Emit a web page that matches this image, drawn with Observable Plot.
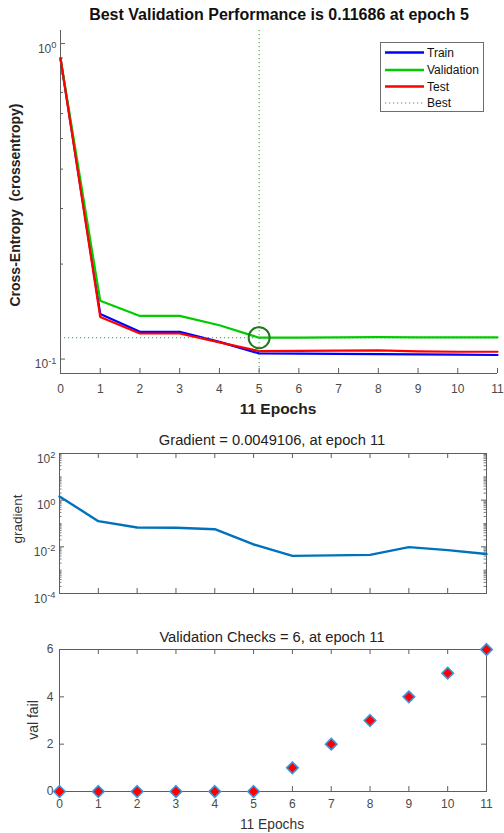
<!DOCTYPE html>
<html><head><meta charset="utf-8">
<script src="https://cdn.jsdelivr.net/npm/d3@7"></script>
<script src="https://cdn.jsdelivr.net/npm/@observablehq/plot@0.6"></script>
<style>
body{margin:0;background:#fff;font-family:"Liberation Sans",Arial,sans-serif;}
#wrap{position:relative;width:504px;height:833px;overflow:hidden;background:#fff;}
.abs{position:absolute;white-space:pre;transform:translate(-50%,-50%);line-height:1;}
.rot{transform:translate(-50%,-50%) rotate(-90deg);}
</style></head><body><div id="wrap"></div>
<script>
// ---- data ----
const epochs = [0,1,2,3,4,5,6,7,8,9,10,11];
const trainPerf = [0.897,0.139,0.122,0.122,0.1134,0.1042,0.1040,0.1038,0.1037,0.1035,0.1033,0.1030];
const valPerf   = [0.897,0.153,0.137,0.137,0.128,0.11686,0.1170,0.1171,0.1173,0.1172,0.1171,0.1172];
const testPerf  = [0.897,0.136,0.1205,0.1205,0.1130,0.1060,0.1061,0.1063,0.1066,0.1058,0.1055,0.1055];
const bestEpoch = 5;
const bestPerf = 0.11686;
const gradient = [1.45,0.126,0.067,0.066,0.057,0.0126,0.0041,0.0043,0.0045,0.0097,0.0072,0.0049106];
const valFail = [0,0,0,0,0,0,1,2,3,4,5,6];

const perfTicks = [1, 0.1];
const perfTickLabels = ["10⁰", "10⁻¹"];
const perfMinorTicks = [0.2,0.3,0.4,0.5,0.6,0.7,0.8,0.9];
const gradTicks = [100, 1, 0.01, 0.0001];
const gradTickLabels = ["10²", "10⁰", "10⁻²", "10⁻⁴"];
const gradDecades = [0.0001, 0.001, 0.01, 0.1, 1, 10];
const minorMultipliers = [2,3,4,5,6,7,8,9];
const gradOddDecades = [10, 0.1, 0.001];
const failTicks = [0, 2, 4, 6];

const titles = ["Best Validation Performance is 0.11686 at epoch 5",
                "Gradient = 0.0049106, at epoch 11",
                "Validation Checks = 6, at epoch 11"];
const yLabels = ["Cross-Entropy  (crossentropy)", "gradient", "val fail"];
const xLabel = "11 Epochs";
const legendNames = ["Train", "Validation", "Test", "Best"];

// ---- styles ----
const FONT = '"Liberation Sans", Arial, sans-serif';
const AX = "#5e5e5e";
const TK = "#4a4a4a";
const cTrain = "#0000ff", cVal = "#00cc00", cTest = "#ff0000", cBest = "#3a9a3a", cCircle = "#1f7a1f";
const cGrad = "#0072BD";
const NS = "http://www.w3.org/2000/svg";

const wrap = document.getElementById("wrap");
function place(el, top) { el.style.position = "absolute"; el.style.left = "0px"; el.style.top = top + "px"; wrap.append(el); }
function text(str, x, y, css, rot) {
  const d = document.createElement("div");
  d.className = "abs" + (rot ? " rot" : "");
  d.textContent = str;
  d.style.left = x + "px"; d.style.top = y + "px";
  Object.assign(d.style, css);
  wrap.append(d);
}
const supMap = {"⁰":"0","¹":"1","²":"2","³":"3","⁴":"4","⁵":"5","⁶":"6","⁷":"7","⁸":"8","⁹":"9","⁻":"-"};
function fixSup(svg) {
  svg.querySelectorAll("text").forEach(t => {
    const m = t.textContent.match(/^10([⁰¹²³⁴⁵⁶⁷⁸⁹⁻]+)$/);
    if (!m) return;
    const exp = [...m[1]].map(c => supMap[c]).join("");
    t.textContent = "10";
    t.setAttribute("dy", "0.45em");
    const ts = document.createElementNS(NS, "tspan");
    ts.setAttribute("dy", "-0.5em");
    ts.setAttribute("font-size", "0.78em");
    ts.textContent = exp;
    t.append(ts);
  });
  return svg;
}
const perfMap = new Map(perfTicks.map((t,i)=>[t, perfTickLabels[i]]));
const gradMap = new Map(gradTicks.map((t,i)=>[t, gradTickLabels[i]]));
const gradMinor = gradDecades.flatMap(d => minorMultipliers.map(m => d * m)).concat(gradOddDecades);

// ---- panel 1 ----
{
  const W = 504, H = 420, mL = 60, mR = 7, mT = 30, mB = 47;
  const pw = W - mL - mR, ph = H - mT - mB;
  const svg = Plot.plot({
    width: W, height: H, marginLeft: mL, marginRight: mR, marginTop: mT, marginBottom: mB,
    style: {fontFamily: FONT, fontSize: "12px", color: TK, background: "transparent"},
    x: {domain: [0, 11]},
    y: {type: "log", domain: [0.09, 1.1]},
    marks: [
      Plot.axisX(epochs, {tickSize: 0, tickPadding: 11, label: null, tickFormat: d => String(d)}),
      Plot.axisY(perfTicks, {tickSize: 0, tickPadding: 4, label: null, tickFormat: d => perfMap.get(d)}),
      Plot.ruleX([0], {stroke: AX}),
      Plot.ruleY([0.09], {stroke: AX}),
      Plot.tickX(epochs, {x: d => d, insetTop: ph - 5, stroke: AX}),
      Plot.tickY(perfTicks, {y: d => d, insetRight: pw - 5, stroke: AX}),
      Plot.tickY(perfMinorTicks, {y: d => d, insetRight: pw - 3, stroke: AX}),
      Plot.line(epochs, {x: d => d, y: (d, i) => trainPerf[i], stroke: cTrain, strokeWidth: 2.2}),
      Plot.line(epochs, {x: d => d, y: (d, i) => valPerf[i], stroke: cVal, strokeWidth: 2.2}),
      Plot.line(epochs, {x: d => d, y: (d, i) => testPerf[i], stroke: cTest, strokeWidth: 2.2}),
      Plot.ruleX([bestEpoch], {stroke: cBest, strokeWidth: 1, strokeDasharray: "1.2,2.8"}),
      Plot.ruleY([bestPerf], {stroke: cBest, strokeWidth: 1, strokeDasharray: "1.2,2.8"}),
      Plot.dot([bestEpoch], {x: d => d, y: () => bestPerf, r: 10.5, stroke: cCircle, strokeWidth: 2, fill: "none"})
    ]
  });
  place(fixSup(svg), 0);
  text(titles[0], 279, 15, {fontSize: "16px", fontWeight: "bold", color: "#111"});
  text(yLabels[0], 15, 205, {fontSize: "14px", fontWeight: "bold", color: "#222"}, true);
  text(xLabel, 278, 409, {fontSize: "15.5px", fontWeight: "bold", color: "#222"});

  // legend
  const lg = document.createElementNS(NS, "svg");
  lg.setAttribute("width", 104); lg.setAttribute("height", 70);
  lg.style.position = "absolute"; lg.style.left = "380px"; lg.style.top = "42px";
  const rect = document.createElementNS(NS, "rect");
  Object.entries({x: 0.5, y: 0.5, width: 103, height: 69, fill: "#fff", stroke: "#6e6e6e"}).forEach(([k,v]) => rect.setAttribute(k, v));
  lg.append(rect);
  const cols = [cTrain, cVal, cTest, cBest];
  const ys = [10.5, 28, 44.5, 61];
  legendNames.forEach((n, i) => {
    const l = document.createElementNS(NS, "line");
    const dotted = i === 3;
    Object.entries({x1: 5, x2: 44, y1: ys[i], y2: ys[i], stroke: cols[i], "stroke-width": dotted ? 1 : 2.4}).forEach(([k,v]) => l.setAttribute(k, v));
    if (dotted) l.setAttribute("stroke-dasharray", "1.2,2.8");
    lg.append(l);
    const t = document.createElementNS(NS, "text");
    t.setAttribute("x", 47); t.setAttribute("y", ys[i] + 4.3);
    t.setAttribute("font-size", "12"); t.setAttribute("font-family", FONT); t.setAttribute("fill", "#111");
    t.textContent = n;
    lg.append(t);
  });
  wrap.append(lg);
}

// ---- panel 2 ----
{
  const W = 504, H = 190, mL = 59, mR = 18, mT = 33, mB = 17;
  const pw = W - mL - mR, ph = H - mT - mB;
  const svg = Plot.plot({
    width: W, height: H, marginLeft: mL, marginRight: mR, marginTop: mT, marginBottom: mB,
    style: {fontFamily: FONT, fontSize: "12px", color: TK, background: "transparent"},
    x: {domain: [0, 11], axis: null},
    y: {type: "log", domain: [1e-4, 1e2]},
    marks: [
      Plot.axisY(gradTicks, {tickSize: 0, tickPadding: 4, label: null, tickFormat: d => gradMap.get(d)}),
      Plot.frame({stroke: AX}),
      Plot.tickX(epochs, {x: d => d, insetTop: ph - 5, stroke: AX}),
      Plot.tickX(epochs, {x: d => d, insetBottom: ph - 5, stroke: AX}),
      Plot.tickY(gradTicks, {y: d => d, insetRight: pw - 5, stroke: AX}),
      Plot.tickY(gradTicks, {y: d => d, insetLeft: pw - 5, stroke: AX}),
      Plot.tickY(gradMinor, {y: d => d, insetRight: pw - 2.5, stroke: AX, strokeOpacity: 0.8}),
      Plot.tickY(gradMinor, {y: d => d, insetLeft: pw - 2.5, stroke: AX, strokeOpacity: 0.8}),
      Plot.line(epochs, {x: d => d, y: (d, i) => gradient[i], stroke: cGrad, strokeWidth: 2.4})
    ]
  });
  place(fixSup(svg), 420);
  text(titles[1], 272, 440, {fontSize: "14.7px", color: "#222"});
  text(yLabels[1], 18, 519, {fontSize: "13.5px", color: "#333"}, true);
}

// ---- panel 3 ----
{
  const W = 504, H = 223, mL = 59, mR = 18, mT = 39, mB = 42;
  const pw = W - mL - mR, ph = H - mT - mB;
  const svg = Plot.plot({
    width: W, height: H, marginLeft: mL, marginRight: mR, marginTop: mT, marginBottom: mB,
    style: {fontFamily: FONT, fontSize: "12px", color: TK, background: "transparent"},
    x: {domain: [0, 11]},
    y: {domain: [0, 6]},
    marks: [
      Plot.axisX(epochs, {tickSize: 0, tickPadding: 8, label: null, tickFormat: d => String(d)}),
      Plot.axisY(failTicks, {tickSize: 0, tickPadding: 6, label: null, tickFormat: d => String(d)}),
      Plot.frame({stroke: AX}),
      Plot.tickX(epochs, {x: d => d, insetTop: ph - 5, stroke: AX}),
      Plot.tickX(epochs, {x: d => d, insetBottom: ph - 5, stroke: AX}),
      Plot.tickY(failTicks, {y: d => d, insetRight: pw - 5, stroke: AX}),
      Plot.tickY(failTicks, {y: d => d, insetLeft: pw - 5, stroke: AX}),
      Plot.dot(epochs, {x: d => d, y: (d, i) => valFail[i], symbol: "diamond2", r: 5.2, fill: "#ff0000", stroke: "#3a96dc", strokeWidth: 1.6})
    ]
  });
  place(svg, 610);
  text(titles[2], 272, 637, {fontSize: "14.7px", color: "#222"});
  text(yLabels[2], 33, 720, {fontSize: "14px", color: "#333"}, true);
  text(xLabel, 272, 825, {fontSize: "13.8px", color: "#333"});
}
</script></body></html>
